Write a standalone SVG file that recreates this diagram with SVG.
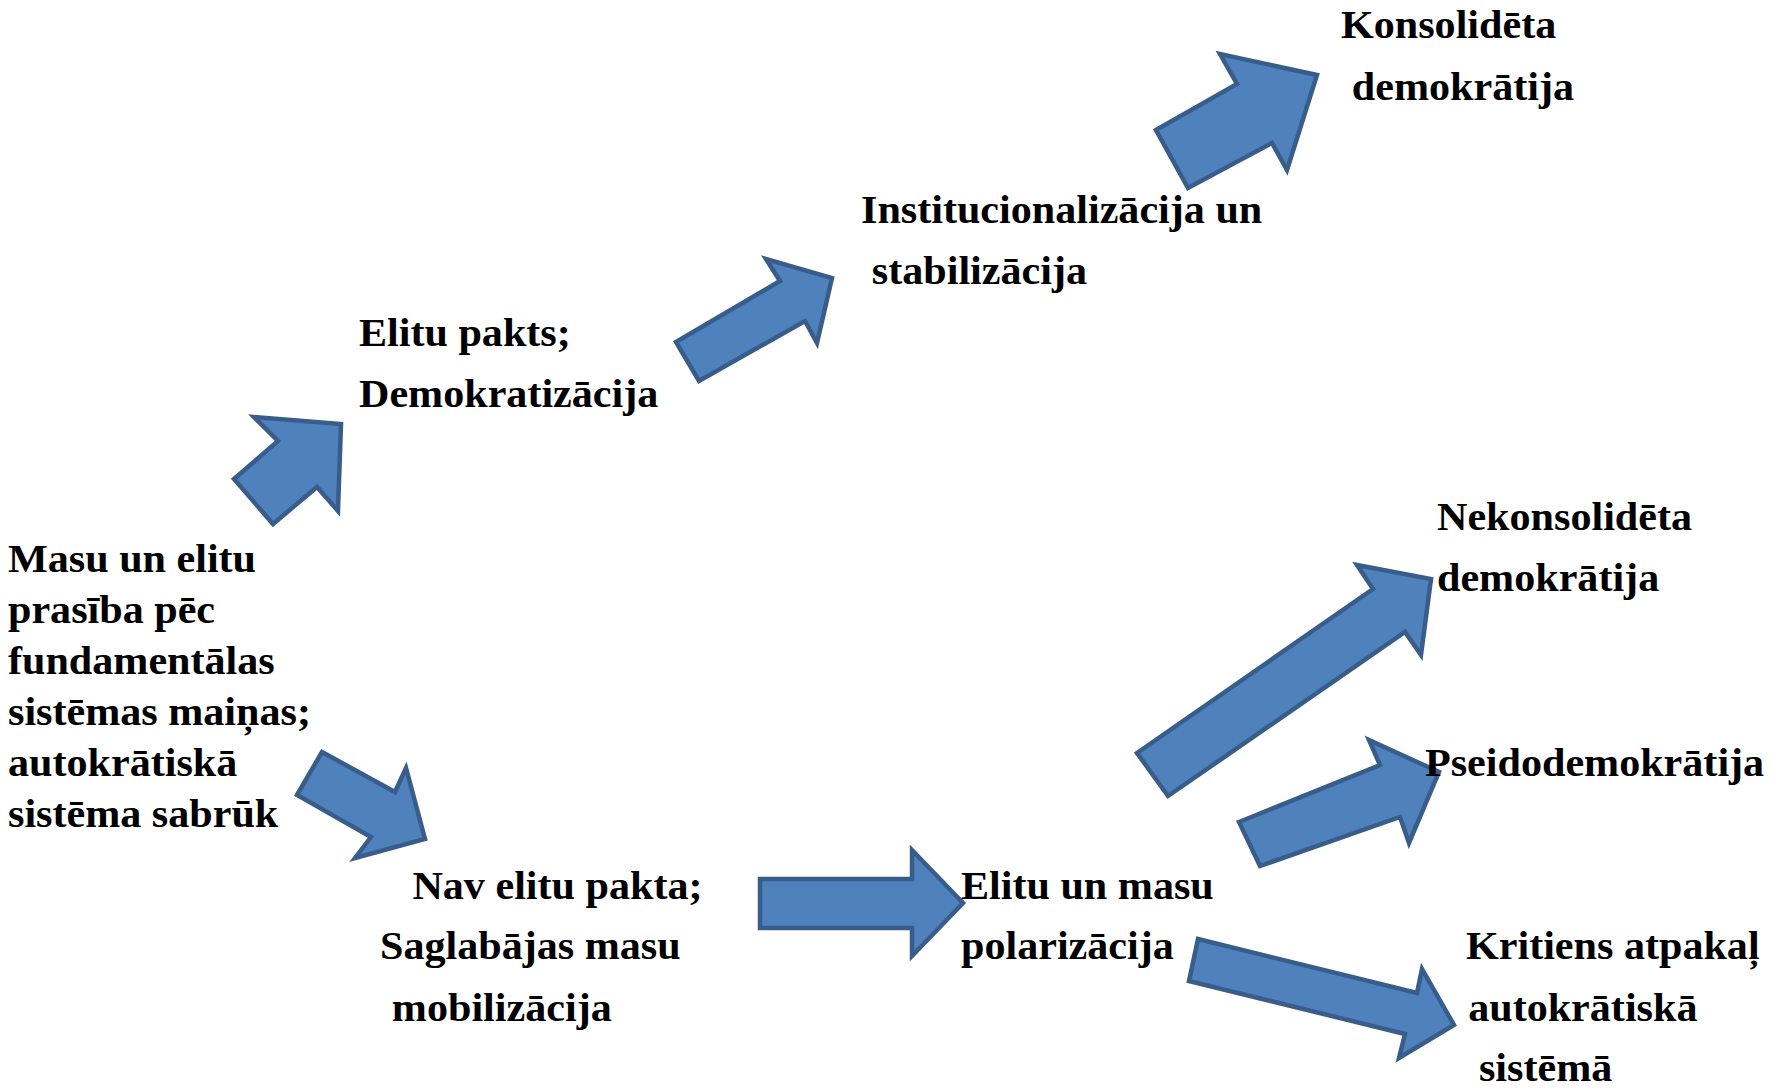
<svg xmlns="http://www.w3.org/2000/svg" width="1771" height="1088" viewBox="0 0 1771 1088">
<style>
.arr{fill:#4F81BD;stroke:#385D8A;stroke-width:4.5;stroke-linejoin:miter}
.t{font-family:"Liberation Serif","Times New Roman",serif;font-weight:bold;font-size:39px;fill:#000}
</style>
<rect width="1771" height="1088" fill="#fff"/>
<g id="connectors">
<polygon class="arr" points="1156,130 1237,84 1220,54 1317,75 1287,170 1272,143 1188,188"/>
<polygon class="arr" points="234,479 278,441 254,417 341,424 338,511 317,487 273,524"/>
<polygon class="arr" points="676,342 780,281 766,259 832,278 817,343 805,321 699,381"/>
<polygon class="arr" points="322,752 395,792 406,768 425,839 355,858 371,837 297,795"/>
<polygon class="arr" points="760,879 912,879 912,850 963,903 912,956 912,928 760,928"/>
<polygon class="arr" points="1137,753 1373,589 1357,565 1431,579 1421,655 1405,632 1168,796"/>
<polygon class="arr" points="1239,822 1380,765 1369,740 1439,772 1409,843 1400,817 1260,866"/>
<polygon class="arr" points="1198,939 1417,993 1422,969 1454,1025 1399,1058 1405,1034 1189,981"/>
</g>
<g id="n-start"><text class="t" transform="translate(8,572) scale(1.08 1)"><tspan x="0" y="0">Masu un elitu</tspan><tspan x="0" y="51">prasība pēc</tspan><tspan x="0" y="102">fundamentālas</tspan><tspan x="0" y="153">sistēmas maiņas;</tspan><tspan x="0" y="204">autokrātiskā</tspan><tspan x="0" y="255">sistēma sabrūk</tspan></text></g>
<g id="n-pakts"><text class="t" transform="translate(359,346) scale(1.08 1)"><tspan x="0" y="0">Elitu pakts;</tspan><tspan x="0" y="61">Demokratizācija</tspan></text></g>
<g id="n-inst"><text class="t" transform="translate(861,223) scale(1.08 1)"><tspan x="0" y="0">Institucionalizācija un</tspan><tspan x="10" y="61">stabilizācija</tspan></text></g>
<g id="n-kons"><text class="t" transform="translate(1341,38) scale(1.08 1)"><tspan x="0" y="0">Konsolidēta</tspan><tspan x="10" y="62">demokrātija</tspan></text></g>
<g id="n-nav"><text class="t" transform="translate(380,899) scale(1.08 1)"><tspan x="30" y="0">Nav elitu pakta;</tspan><tspan x="0" y="60">Saglabājas masu</tspan><tspan x="11" y="122">mobilizācija</tspan></text></g>
<g id="n-polar"><text class="t" transform="translate(961,899) scale(1.08 1)"><tspan x="0" y="0">Elitu un masu</tspan><tspan x="0" y="60">polarizācija</tspan></text></g>
<g id="n-nekons"><text class="t" transform="translate(1437,530) scale(1.08 1)"><tspan x="0" y="0">Nekonsolidēta</tspan><tspan x="0" y="61">demokrātija</tspan></text></g>
<g id="n-pseido"><text class="t" transform="translate(1425,776) scale(1.08 1)">Pseidodemokrātija</text></g>
<g id="n-krit"><text class="t" transform="translate(1466,959) scale(1.08 1)"><tspan x="0" y="0">Kritiens atpakaļ</tspan><tspan x="2" y="62">autokrātiskā</tspan><tspan x="12" y="122">sistēmā</tspan></text></g>
</svg>
